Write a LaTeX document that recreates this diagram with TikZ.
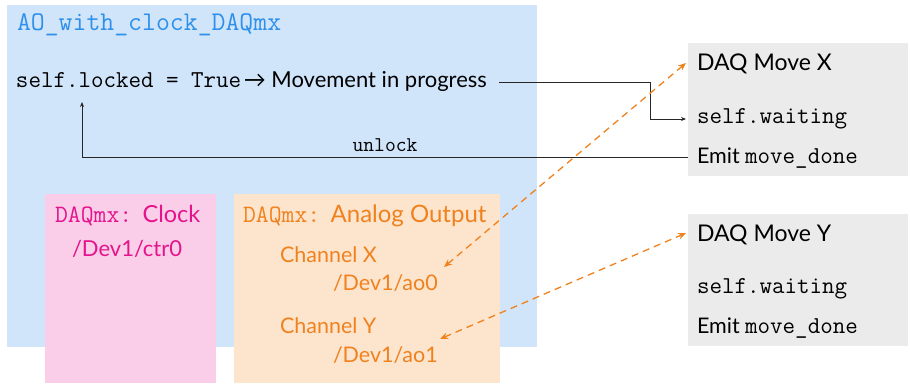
\documentclass[tikz,border=0pt]{standalone}
\usepackage{fontspec}
\setmainfont{Lato}
\usetikzlibrary{arrows.meta}
\definecolor{bluebg}{RGB}{208,228,250}
\definecolor{bluetx}{RGB}{45,145,235}
\definecolor{pinkbg}{RGB}{250,205,232}
\definecolor{pinktx}{RGB}{228,20,140}
\definecolor{orangebg}{RGB}{252,228,205}
\definecolor{orangetx}{RGB}{240,130,30}
\definecolor{graybg}{RGB}{235,235,235}
\newcommand\mytt[2]{{\fontsize{#1}{#1}\selectfont\ttfamily #2}}
\newcommand\mysf[1]{\fontsize{#1}{#1}\selectfont}
\begin{document}
\begin{tikzpicture}[x=1pt,y=-1pt,
  txt/.style={anchor=base west,inner sep=0pt,outer sep=0pt},
  link/.style={draw=black!85,line width=0.8pt,-{Stealth[length=5pt,width=4pt]}},
  dlink/.style={draw=orangetx,line width=1.3pt,dash pattern=on 7pt off 5pt,{Stealth[length=8pt,width=6.5pt]}-{Stealth[length=8pt,width=6.5pt]}}]
\useasboundingbox (0,0) rectangle (910,383);
% containers
\fill[bluebg] (7,5) rectangle (537,347);
\fill[pinkbg] (45,194) rectangle (216,383);
\fill[orangebg] (234,194) rectangle (500,383);
\fill[graybg] (688,43) rectangle (908,176);
\fill[graybg] (688,214) rectangle (908,346);
% main block
\node[txt,text=bluetx] (title) at (17,30) {\mytt{27}{AO\_with\_clock\_DAQmx}};
\node[txt] (locked) at (16,87) {\mytt{24.3}{self.locked = True} \mysf{22}→ Movement in progress};
% clock
\node[txt,text=pinktx] (clk) at (55,222) {\mytt{25}{DAQmx:}\hspace{7pt} \mysf{23.5}Clock};
\node[txt,text=pinktx] (ctr) at (72,256) {\mysf{22}/Dev1/ctr0};
% analog output
\node[txt,text=orangetx] (ao) at (243,222) {\mytt{25}{DAQmx:}\hspace{7pt} \mysf{24}Analog Output};
\node[txt,text=orangetx] (chx) at (280,262) {\mysf{21.5}Channel X};
\node[txt,text=orangetx] (ao0) at (333,290) {\mysf{21.5}/Dev1/ao0};
\node[txt,text=orangetx] (chy) at (280,333) {\mysf{21.5}Channel Y};
\node[txt,text=orangetx] (ao1) at (333,362) {\mysf{21.5}/Dev1/ao1};
% DAQ Move X
\node[txt] (mx) at (697,70) {\mysf{23}DAQ Move X};
\node[txt] (wx) at (697,123) {\mytt{24.3}{self.waiting}};
\node[txt] (ex) at (697,163) {\mysf{21.5}Emit \mytt{24.3}{move\_done}};
% DAQ Move Y
\node[txt] (my) at (697,241) {\mysf{23}DAQ Move Y};
\node[txt] (wy) at (697,293) {\mytt{24.3}{self.waiting}};
\node[txt] (ey) at (697,333) {\mysf{21.5}Emit \mytt{24.3}{move\_done}};
% connectors
\coordinate (lockstart) at (499,82);
\coordinate (waitin) at (686,119);
\coordinate (lockin) at (82,102);
\coordinate (donestart) at (688,157);
\draw[link] (lockstart) -- (650,82) |- (waitin);
\draw[link] (donestart) -- (82,157) node[midway,above=5pt,inner sep=0pt] (unl) {\mytt{21}{unlock}} -- (lockin);
\coordinate (ax1) at (444,267);
\coordinate (ax2) at (686,63);
\coordinate (ay1) at (440,339);
\coordinate (ay2) at (686,233);
\draw[dlink] (ax1) -- (ax2);
\draw[dlink] (ay1) -- (ay2);
\end{tikzpicture}
\end{document}
